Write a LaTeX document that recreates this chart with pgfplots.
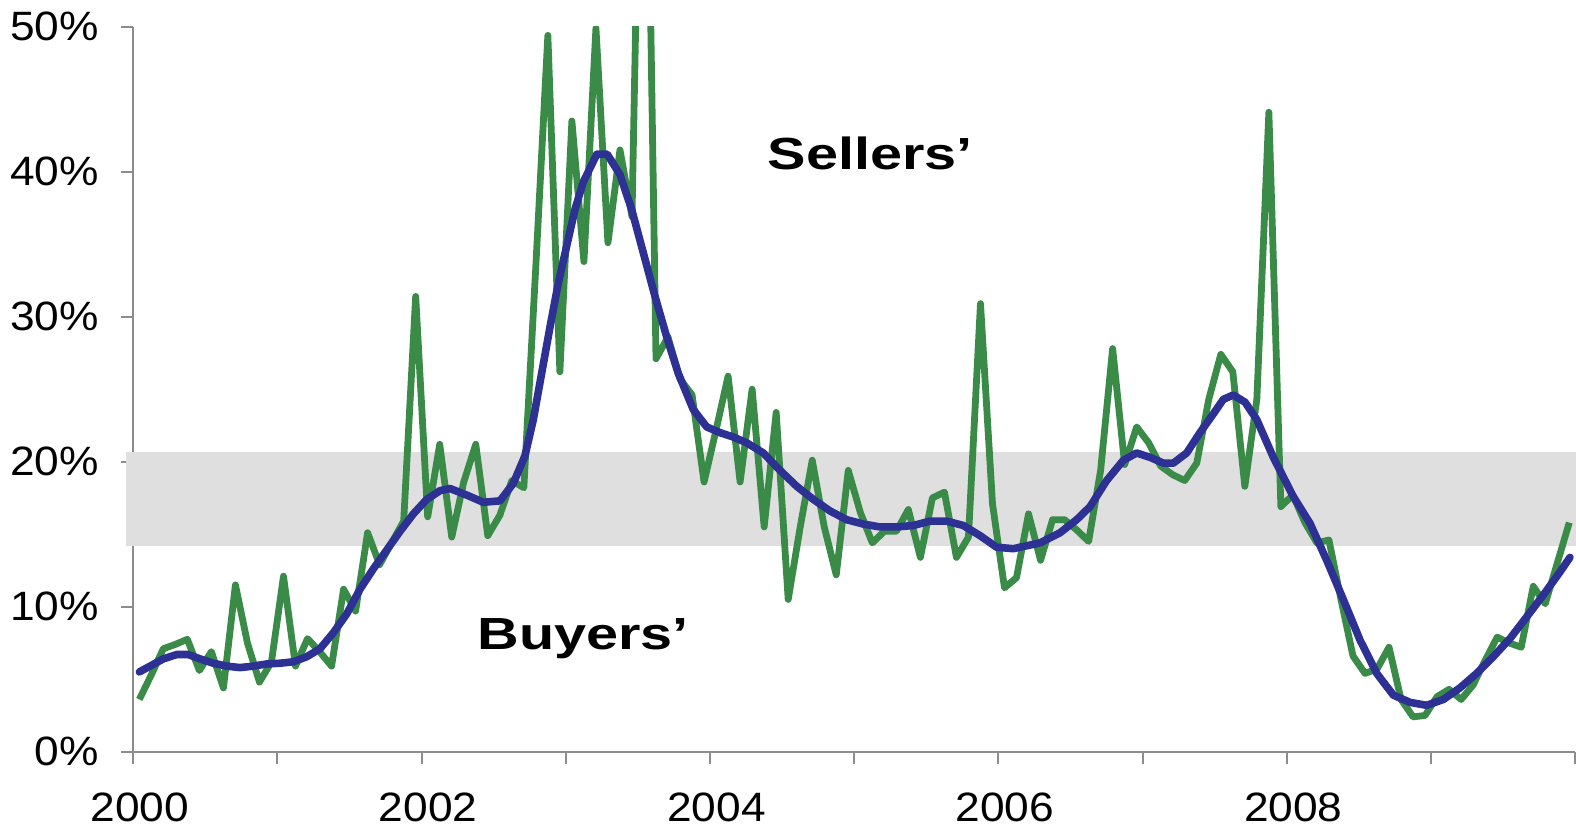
\documentclass[border=0pt]{standalone}
\usepackage{fontspec}
\setmainfont{Liberation Sans}[FakeStretch=1.08]
\newfontfamily\annfont{Liberation Sans}[FakeStretch=1.28]
\usepackage{pgfplots}
\usepackage{pgfplotstable}
\pgfplotsset{compat=1.18}
\definecolor{lgreen}{RGB}{58,139,72}
\definecolor{lblue}{RGB}{46,49,148}
\definecolor{bandgray}{RGB}{223,223,223}
\definecolor{axgray}{RGB}{140,140,140}

% monthly values, Jan 2000 ... Dec 2009
\pgfplotstableread{
v
3.6
5.3
7.1
7.4
7.75
5.6
6.9
4.4
11.5
7.5
4.8
6.2
12.1
5.9
7.8
6.9
5.9
11.2
9.7
15.1
12.9
14.4
15.9
31.4
16.2
21.2
14.8
18.6
21.2
14.9
16.3
18.7
18.2
33.5
49.4
26.2
43.5
33.8
49.9
35.1
41.5
36.9
80
27.1
28.6
25.7
24.6
18.6
22.2
25.9
18.6
25.0
15.5
23.4
10.5
15.5
20.1
15.5
12.2
19.4
16.5
14.4
15.2
15.2
16.7
13.4
17.5
17.9
13.4
14.8
30.9
17.1
11.3
12.0
16.4
13.2
16.0
16.0
15.3
14.5
19.4
27.8
19.8
22.4
21.3
19.7
19.1
18.7
19.9
24.3
27.4
26.2
18.3
24.3
44.1
16.9
17.7
15.8
14.4
14.6
10.5
6.6
5.4
5.7
7.2
3.6
2.4
2.5
3.8
4.3
3.6
4.6
6.3
7.9
7.5
7.2
11.4
10.2
13.0
15.8
}\greendata

\pgfplotstableread{
x y
2000.042 5.5
2000.116 5.9
2000.208 6.4
2000.301 6.7
2000.381 6.7
2000.463 6.4
2000.555 6.1
2000.648 5.9
2000.740 5.8
2000.832 5.9
2000.925 6.05
2001.017 6.1
2001.110 6.2
2001.203 6.55
2001.295 7.1
2001.387 8.2
2001.480 9.5
2001.572 11.2
2001.664 12.6
2001.757 13.9
2001.850 15.2
2001.942 16.4
2002.035 17.4
2002.127 18.0
2002.196 18.15
2002.312 17.7
2002.427 17.2
2002.543 17.3
2002.635 18.5
2002.716 20.4
2002.774 22.9
2002.832 26.1
2002.890 29.3
2002.947 32.3
2003.006 34.9
2003.063 37.4
2003.121 39.3
2003.214 41.2
2003.287 41.2
2003.375 39.8
2003.456 37.4
2003.537 34.4
2003.618 31.4
2003.699 28.6
2003.779 26.1
2003.883 23.6
2003.976 22.4
2004.069 22.0
2004.161 21.7
2004.254 21.3
2004.369 20.6
2004.485 19.4
2004.601 18.3
2004.716 17.4
2004.832 16.6
2004.947 16.0
2005.062 15.7
2005.178 15.5
2005.294 15.5
2005.409 15.6
2005.525 15.9
2005.641 15.9
2005.756 15.6
2005.872 14.9
2005.987 14.1
2006.103 14.0
2006.288 14.4
2006.427 15.1
2006.542 16.0
2006.635 16.9
2006.750 18.7
2006.866 20.1
2006.958 20.6
2007.051 20.3
2007.143 19.9
2007.212 19.9
2007.305 20.6
2007.397 22.0
2007.490 23.3
2007.559 24.3
2007.628 24.6
2007.710 24.1
2007.791 22.9
2007.906 20.3
2008.044 17.6
2008.160 15.75
2008.276 13.2
2008.391 10.5
2008.507 7.7
2008.623 5.4
2008.738 3.9
2008.854 3.4
2008.969 3.2
2009.085 3.6
2009.200 4.4
2009.316 5.4
2009.431 6.55
2009.547 7.8
2009.663 9.3
2009.778 10.8
2009.894 12.4
2009.963 13.4
}\bluedata

\begin{document}
\begin{tikzpicture}
\begin{axis}[
  scale only axis,
  width=721pt, height=362.5pt,
  xmin=2000, xmax=2010, ymin=0, ymax=50,
  axis lines=left,
  axis line style={axgray, line width=1pt, -},
  tick style={axgray, line width=1pt},
  tick align=outside,
  major tick length=6.25pt,
  xtick={2000,2001,...,2010},
  xticklabels={2000,,2002,,2004,,2006,,2008,,},
  ytick={0,10,...,50},
  yticklabel={\pgfmathprintnumber{\tick}\%},
  /pgf/number format/assume math mode=true,
  /pgf/number format/1000 sep={},
  tick label style={font=\fontsize{20.5}{24}\selectfont, text=black},
  xticklabel style={yshift=-13pt, xshift=3.2pt, inner sep=1pt},
  yticklabel style={xshift=-7.5pt},
  clip mode=individual,
]
\fill[bandgray] (axis cs:1999.951,14.2) rectangle (axis cs:2010.01,20.7);
\addplot[lgreen, line width=3.4pt, line join=round, no marks]
  table[x expr={2000+(\coordindex+0.5)/12}, y=v] {\greendata};
\addplot[lblue, line width=3.8pt, line join=round, line cap=round, no marks]
  table[x=x, y=y] {\bluedata};
\node[anchor=base, font=\annfont\bfseries\fontsize{22.5}{27}\selectfont] at (axis cs:2005.11,40.12) {Sellers’};
\node[anchor=base, font=\annfont\bfseries\fontsize{22.5}{27}\selectfont] at (axis cs:2003.12,7.06) {Buyers’};
\end{axis}
\pgfresetboundingbox
\path[use as bounding box] (-66.65pt,-40.65pt) rectangle (721.35pt,375.85pt);
\end{tikzpicture}
\end{document}
